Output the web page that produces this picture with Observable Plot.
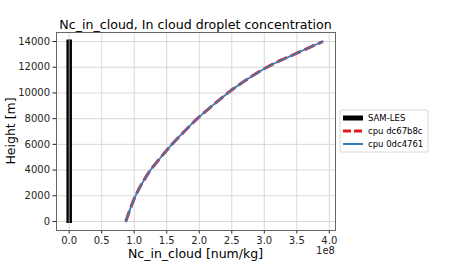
<!DOCTYPE html>
<html>
<head>
<meta charset="utf-8">
<script src="https://cdn.jsdelivr.net/npm/d3@7"></script>
<script src="https://cdn.jsdelivr.net/npm/@observablehq/plot@0.6"></script>
<style>
  html, body { margin: 0; padding: 0; background: #fff; }
  #chart { width: 450px; height: 270px; }
  svg text { font-family: "DejaVu Sans", sans-serif; }
</style>
</head>
<body>
<div id="chart"></div>
<script>
// Data
const heights = [0, 1000, 2000, 3000, 4000, 5000, 6000, 7000, 8000, 9000, 10000, 11000, 12000, 13000, 14000];
const ncDc67b8c = [0.87e8, 0.94e8, 1.02e8, 1.125e8, 1.25e8, 1.41e8, 1.58e8, 1.77e8, 1.97e8, 2.20e8, 2.44e8, 2.72e8, 3.04e8, 3.46e8, 3.90e8];
const nc0dc4761 = [0.87e8, 0.94e8, 1.02e8, 1.125e8, 1.25e8, 1.41e8, 1.58e8, 1.77e8, 1.97e8, 2.20e8, 2.44e8, 2.72e8, 3.04e8, 3.46e8, 3.90e8];
const samHeights = [-120, 14150];
const samValues = [0, 0];
const xTicks = [0, 0.5e8, 1.0e8, 1.5e8, 2.0e8, 2.5e8, 3.0e8, 3.5e8, 4.0e8];
const yTicks = [0, 2000, 4000, 6000, 8000, 10000, 12000, 14000];
const seriesNames = ["SAM-LES", "cpu dc67b8c", "cpu 0dc4761"];
const seriesColors = ["#000000", "#e41a1c", "#377eb8"];
const titleText = "Nc_in_cloud, In cloud droplet concentration";
const xLabel = "Nc_in_cloud [num/kg]";
const yLabel = "Height [m]";

const sam = samHeights.map((h, i) => ({x: samValues[i], y: h}));
const s1 = heights.map((h, i) => ({x: ncDc67b8c[i], y: h}));
const s2 = heights.map((h, i) => ({x: nc0dc4761[i], y: h}));

const W = 450, H = 270;
const mL = 56, mR = 115, mT = 32, mB = 40;
const gridColor = "#cfcfcf";
const textColor = "#262626";

const plot = Plot.plot({
  width: W, height: H,
  marginLeft: mL, marginRight: mR, marginTop: mT, marginBottom: mB,
  style: {fontFamily: "DejaVu Sans, sans-serif", fontSize: "10px", color: textColor, background: "#fff"},
  x: {domain: [-0.195e8, 4.095e8], label: null},
  y: {domain: [-700, 14700], label: null},
  marks: [
    Plot.ruleX(xTicks, {stroke: gridColor, strokeWidth: 0.8}),
    Plot.ruleY(yTicks, {stroke: gridColor, strokeWidth: 0.8}),
    Plot.line(sam, {x: "x", y: "y", stroke: seriesColors[0], strokeWidth: 5.5, strokeLinecap: "butt", clip: true}),
    Plot.line(sam, {x: "x", y: "y", stroke: "#bdbdbd", strokeWidth: 0.8, strokeLinecap: "butt", clip: true}),
    Plot.line(s1, {x: "x", y: "y", stroke: seriesColors[1], strokeWidth: 3, strokeDasharray: "11,4", strokeLinecap: "butt", curve: "catmull-rom"}),
    Plot.line(s2, {x: "x", y: "y", stroke: seriesColors[2], strokeWidth: 1.8, curve: "catmull-rom"}),
    Plot.axisX({ticks: xTicks, tickFormat: d => (d / 1e8).toFixed(1), label: null, tickSize: 3.5, tickPadding: 3, fontSize: 10}),
    Plot.axisY({ticks: yTicks, tickFormat: d => String(d), label: null, tickSize: 3.5, tickPadding: 3, fontSize: 10}),
    Plot.frame({stroke: "#666", strokeWidth: 1})
  ]
});
document.getElementById("chart").appendChild(plot);

const svg = d3.select(plot);
const cx = mL + (W - mL - mR) / 2;
svg.append("text").attr("x", cx).attr("y", 29).attr("text-anchor", "middle")
  .attr("font-size", 12.6).attr("fill", "#000").text(titleText);
svg.append("text").attr("x", cx).attr("y", 258).attr("text-anchor", "middle")
  .attr("font-size", 12.5).attr("fill", "#000").text(xLabel);
svg.append("text").attr("x", W - mR).attr("y", 254).attr("text-anchor", "end")
  .attr("font-size", 10).attr("fill", textColor).text("1e8");
svg.append("text").attr("transform", `translate(15,${mT + (H - mT - mB) / 2}) rotate(-90)`)
  .attr("text-anchor", "middle").attr("font-size", 12.5).attr("fill", "#000").text(yLabel);

// legend
const lg = svg.append("g").attr("transform", "translate(340,110)");
lg.append("rect").attr("width", 88).attr("height", 42).attr("rx", 2)
  .attr("fill", "#fff").attr("stroke", "#d8d8d8");
const dashes = [null, "8,3", null];
const widths = [5, 3, 2];
seriesNames.forEach((name, i) => {
  const y = 8 + i * 13;
  lg.append("line").attr("x1", 3).attr("x2", 23).attr("y1", y).attr("y2", y)
    .attr("stroke", seriesColors[i]).attr("stroke-width", widths[i])
    .attr("stroke-dasharray", dashes[i]);
  lg.append("text").attr("x", 28).attr("y", y + 3.2).attr("font-size", 8.5)
    .attr("text-anchor", "start").attr("fill", "#000").text(name);
});
</script>
</body>
</html>
